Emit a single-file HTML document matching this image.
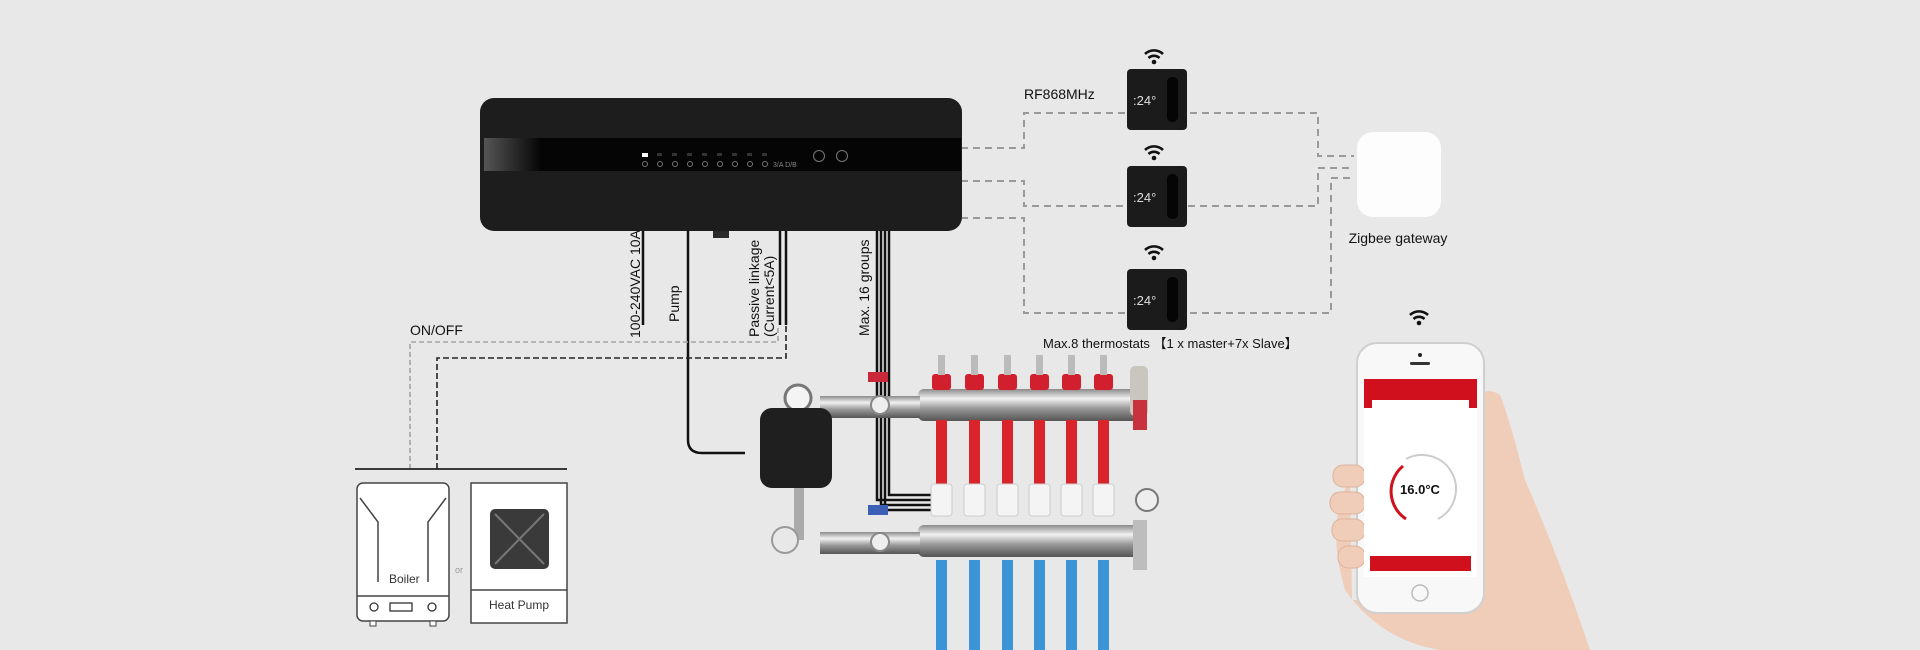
<!DOCTYPE html>
<html><head><meta charset="utf-8"><style>
html,body{margin:0;padding:0;background:#e9e8e8;}
svg{display:block}
text{font-family:"Liberation Sans",Arial,sans-serif;}
</style></head><body>
<svg width="1920" height="650" viewBox="0 0 1920 650" xmlns="http://www.w3.org/2000/svg">
<defs>
<linearGradient id="steel" x1="0" y1="0" x2="0" y2="1"><stop offset="0" stop-color="#8a8a8a"/><stop offset="0.3" stop-color="#f2f2f2"/><stop offset="0.6" stop-color="#9a9a9a"/><stop offset="1" stop-color="#555"/></linearGradient>
<linearGradient id="band" x1="0" y1="0" x2="1" y2="0"><stop offset="0" stop-color="#555"/><stop offset="0.12" stop-color="#050505"/><stop offset="1" stop-color="#050505"/></linearGradient>
<g id="wifi"><path d="M-9,-3 A13,13 0 0 1 9,-3" fill="none" stroke="#111" stroke-width="2.6"/><path d="M-5.5,1 A8,8 0 0 1 5.5,1" fill="none" stroke="#111" stroke-width="2.6"/><circle cx="0" cy="5" r="2.3" fill="#111"/></g>
<g id="thermo"><rect x="0" y="0" width="60" height="61" rx="4" fill="#1b1b1b"/><rect x="40" y="8" width="11" height="45" rx="5" fill="#050505"/><text x="6" y="36" font-size="13" fill="#ddd">:24°</text></g>
</defs>

<g fill="none" stroke="#9a9a9a" stroke-width="2" stroke-dasharray="7,5">
<path d="M961,148 H1024 V113 H1318 V156 H1354"/>
<path d="M961,181 H1024 V206 H1318 V168 H1354"/>
<path d="M961,218 H1024 V313 H1331 V178 H1354"/>
</g>

<rect x="480" y="98" width="482" height="133" rx="14" fill="#1d1d1d"/>
<rect x="484" y="138" width="477" height="33" fill="url(#band)"/>
<rect x="642" y="153" width="6" height="4" fill="#fff"/>
<g fill="#333"><rect x="657" y="153" width="5" height="3"/><rect x="672" y="153" width="5" height="3"/><rect x="687" y="153" width="5" height="3"/><rect x="702" y="153" width="5" height="3"/><rect x="717" y="153" width="5" height="3"/><rect x="732" y="153" width="5" height="3"/><rect x="747" y="153" width="5" height="3"/><rect x="762" y="153" width="5" height="3"/></g>
<g fill="none" stroke="#777" stroke-width="1"><circle cx="645" cy="164" r="2.5"/><circle cx="660" cy="164" r="2.5"/><circle cx="675" cy="164" r="2.5"/><circle cx="690" cy="164" r="2.5"/><circle cx="705" cy="164" r="2.5"/><circle cx="720" cy="164" r="2.5"/><circle cx="735" cy="164" r="2.5"/><circle cx="750" cy="164" r="2.5"/><circle cx="765" cy="164" r="2.5"/><circle cx="819" cy="156" r="5.5"/><circle cx="842" cy="156" r="5.5"/></g>
<text x="773" y="167" font-size="7" fill="#888">3/A D/B</text>
<rect x="713" y="231" width="16" height="7" fill="#2a2a2a"/>

<g fill="none" stroke="#111" stroke-width="2.5">
<path d="M643,231 V325"/>
<path d="M688,231 V440 Q688,453 702,453 H745"/>
<path d="M780,231 V325"/><path d="M786,231 V325"/>
<path d="M877,231 V500 H932"/><path d="M881,231 V505 H932"/><path d="M885,231 V510 H932"/><path d="M889,231 V495 H932"/>
</g>
<g font-size="14" fill="#111">
<text transform="translate(640,338) rotate(-90)">100-240VAC 10A</text>
<text transform="translate(679,322) rotate(-90)">Pump</text>
<text transform="translate(759,337) rotate(-90)">Passive linkage</text>
<text transform="translate(774,337) rotate(-90)">(Current&lt;5A)</text>
<text transform="translate(869,336) rotate(-90)">Max. 16 groups</text>
</g>

<text x="410" y="335" font-size="14" fill="#111">ON/OFF</text>
<path d="M410,469 V342 H778 V328" fill="none" stroke="#a5a5a5" stroke-width="1.6" stroke-dasharray="5,3"/>
<path d="M437,469 V358 H786 V326" fill="none" stroke="#222" stroke-width="1.6" stroke-dasharray="6,3"/>
<path d="M355,469 H567" stroke="#222" stroke-width="1.8"/>

<rect x="357" y="483" width="92" height="138" rx="6" fill="#fff" stroke="#444" stroke-width="1.5"/>
<path d="M360,498 L378,522 V582 M446,498 L428,522 V582" fill="none" stroke="#444" stroke-width="1.5"/>
<path d="M357,596 H449" stroke="#444" stroke-width="1.5"/>
<text x="389" y="583" font-size="12" fill="#333">Boiler</text>
<circle cx="374" cy="607" r="4" fill="none" stroke="#333" stroke-width="1.3"/><rect x="390" y="603" width="22" height="8" fill="none" stroke="#333" stroke-width="1.3"/><circle cx="432" cy="607" r="4" fill="none" stroke="#333" stroke-width="1.3"/>
<rect x="370" y="621" width="6" height="5" fill="#fff" stroke="#444"/><rect x="430" y="621" width="6" height="5" fill="#fff" stroke="#444"/>
<text x="455" y="573" font-size="9" fill="#999">or</text>
<rect x="471" y="483" width="96" height="140" fill="#fff" stroke="#444" stroke-width="1.5"/>
<path d="M471,590 H567" stroke="#444" stroke-width="1.5"/>
<rect x="490" y="509" width="59" height="60" rx="5" fill="#3a3a3a"/>
<path d="M495,514 L544,564 M544,514 L495,564" stroke="#777" stroke-width="2"/>
<text x="489" y="609" font-size="12" fill="#333">Heat Pump</text>

<g>
<rect x="918" y="389" width="228" height="32" rx="6" fill="url(#steel)"/>
<rect x="918" y="525" width="228" height="32" rx="6" fill="url(#steel)"/>
<g fill="#d8242a"><rect x="936" y="420" width="11" height="64"/><rect x="969" y="420" width="11" height="64"/><rect x="1002" y="420" width="11" height="64"/><rect x="1034" y="420" width="11" height="64"/><rect x="1066" y="420" width="11" height="64"/><rect x="1098" y="420" width="11" height="64"/></g>
<g fill="#d21f2e"><rect x="932" y="374" width="19" height="16" rx="3"/><rect x="965" y="374" width="19" height="16" rx="3"/><rect x="998" y="374" width="19" height="16" rx="3"/><rect x="1030" y="374" width="19" height="16" rx="3"/><rect x="1062" y="374" width="19" height="16" rx="3"/><rect x="1094" y="374" width="19" height="16" rx="3"/></g>
<g fill="#bbb"><rect x="938" y="355" width="7" height="20"/><rect x="971" y="355" width="7" height="20"/><rect x="1004" y="355" width="7" height="20"/><rect x="1036" y="355" width="7" height="20"/><rect x="1068" y="355" width="7" height="20"/><rect x="1100" y="355" width="7" height="20"/></g>
<g fill="#f4f4f4" stroke="#ccc"><rect x="931" y="484" width="21" height="32" rx="3"/><rect x="964" y="484" width="21" height="32" rx="3"/><rect x="997" y="484" width="21" height="32" rx="3"/><rect x="1029" y="484" width="21" height="32" rx="3"/><rect x="1061" y="484" width="21" height="32" rx="3"/><rect x="1093" y="484" width="21" height="32" rx="3"/></g>
<g fill="#3a94d6"><rect x="936" y="560" width="11" height="90"/><rect x="969" y="560" width="11" height="90"/><rect x="1002" y="560" width="11" height="90"/><rect x="1034" y="560" width="11" height="90"/><rect x="1066" y="560" width="11" height="90"/><rect x="1098" y="560" width="11" height="90"/></g>
<rect x="1130" y="366" width="18" height="50" rx="5" fill="#c9c6c0"/>
<rect x="1133" y="400" width="14" height="30" fill="#c8323c"/>
<rect x="1133" y="520" width="14" height="50" fill="#bdbdbd"/>
<circle cx="1147" cy="500" r="11" fill="#eee" stroke="#777" stroke-width="2"/>
<rect x="820" y="396" width="100" height="22" fill="url(#steel)"/>
<rect x="820" y="532" width="100" height="22" fill="url(#steel)"/>
<circle cx="798" cy="398" r="13" fill="#f4f4f4" stroke="#777" stroke-width="3"/>
<circle cx="880" cy="405" r="9" fill="#eee" stroke="#888" stroke-width="2"/>
<circle cx="880" cy="542" r="9" fill="#eee" stroke="#888" stroke-width="2"/>
<rect x="868" y="372" width="20" height="10" fill="#c8283a"/>
<rect x="868" y="505" width="20" height="10" fill="#3a5fb5"/>
<rect x="794" y="410" width="10" height="130" fill="#aaa"/>
<rect x="760" y="408" width="72" height="80" rx="12" fill="#1f1f1f"/>
<circle cx="785" cy="540" r="13" fill="#e8e8e8" stroke="#999" stroke-width="2"/>
</g>

<use href="#thermo" x="1127" y="69"/>
<use href="#thermo" x="1127" y="166"/>
<use href="#thermo" x="1127" y="269"/>
<use href="#wifi" x="1154" y="57"/>
<use href="#wifi" x="1154" y="153"/>
<use href="#wifi" x="1154" y="253"/>
<text x="1024" y="99" font-size="14" fill="#111">RF868MHz</text>
<text x="1043" y="348" font-size="13" fill="#111">Max.8 thermostats 【1 x master+7x Slave】</text>

<rect x="1357" y="132" width="84" height="85" rx="16" fill="#fdfdfd"/>
<text x="1398" y="243" font-size="14" fill="#111" text-anchor="middle">Zigbee gateway</text>

<use href="#wifi" x="1419" y="318"/>
<path d="M1350,480 Q1325,520 1345,590 Q1380,640 1440,650 L1590,650 Q1560,560 1525,480 Q1510,420 1500,395 Q1485,385 1478,400 L1480,600 L1352,600 Z" fill="#efcdb8"/>
<rect x="1357" y="343" width="127" height="270" rx="20" fill="#f8f8f8" stroke="#cfcfcf" stroke-width="2"/>
<g fill="#efcdb8" stroke="#dcb29b" stroke-width="1"><rect x="1333" y="465" width="32" height="22" rx="10"/><rect x="1330" y="492" width="35" height="22" rx="10"/><rect x="1332" y="519" width="33" height="22" rx="10"/><rect x="1338" y="546" width="27" height="22" rx="10"/></g>
<rect x="1364" y="379" width="113" height="198" fill="#fff"/>
<rect x="1364" y="379" width="113" height="29" fill="#d0101c"/>
<rect x="1372" y="400" width="97" height="12" fill="#fff"/>
<rect x="1370" y="556" width="101" height="15" fill="#d0101c"/>
<path d="M1403,466 A33,33 0 0 0 1406,519" fill="none" stroke="#d0101c" stroke-width="3"/>
<path d="M1406,459 A33,33 0 0 1 1438,519" fill="none" stroke="#ccc" stroke-width="2"/>
<text x="1420" y="494" font-size="13" font-weight="bold" fill="#111" text-anchor="middle">16.0°C</text>
<circle cx="1420" cy="593" r="8" fill="none" stroke="#bbb" stroke-width="1.5"/>
<rect x="1410" y="362" width="20" height="3" rx="1.5" fill="#333"/>
<circle cx="1420" cy="355" r="2" fill="#222"/>
</svg>
</body></html>
